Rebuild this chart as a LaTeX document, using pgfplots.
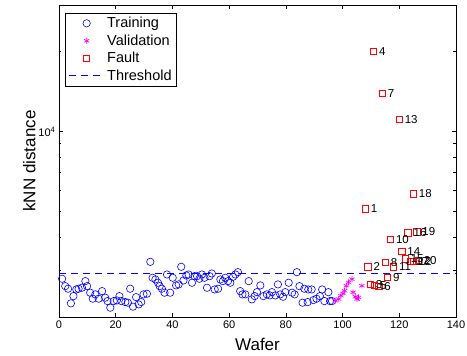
\documentclass[border=0pt]{standalone}
\usepackage{fontspec}
\setmainfont{Liberation Sans}
\usepackage{xcolor}
\usepackage{pgfplots}
\pgfplotsset{compat=1.18}
\definecolor{mblue}{rgb}{0,0,1}
\definecolor{mred}{rgb}{1,0,0}
\definecolor{mmag}{rgb}{1,0,1}
\pgfplotstableread{
x y lab
108.0 5110 1
109.0 3090 2
109.8 2653 3
110.9 20050 4
111.3 2630 5
112.8 2605 6
114.0 13900 7
115.1 3210 8
115.9 2825 9
116.9 3930 10
118.0 3090 11
124.9 3240 12
120.0 11130 13
120.9 3540 14
122.1 3310 15
123.1 4150 16
123.9 3240 17
125.0 5820 18
126.2 4190 19
126.7 3265 20
}\faulttable
\begin{document}
\begin{tikzpicture}
\useasboundingbox (-59pt,-39pt) rectangle (408pt,317pt);
\begin{axis}[
  scale only axis, width=397pt, height=312pt,
  ymode=log, xmin=0, xmax=140, ymin=2000, ymax=30000,
  xtick={0,20,...,140},
  ytick={10000}, yticklabels={10\textsuperscript{4}},
  minor ytick={2000,3000,4000,5000,6000,7000,8000,9000,20000,30000},
  tick align=inside, tick pos=both,
  major tick length=4pt, minor tick length=2.5pt,
  /pgf/number format/assume math mode=true,
  ticklabel style={font=\fontsize{11}{13}\selectfont},
  xlabel={Wafer}, ylabel={kNN distance},
  label style={font=\fontsize{17}{20}\selectfont},
  xlabel style={at={(axis description cs:0.5,0)}, anchor=base, yshift=-33.7pt},
  ylabel style={at={(axis description cs:-0.05,0.5)}, anchor=south},
  axis line style={line width=0.6pt},
  every tick/.style={line width=0.5pt},
  legend style={at={(axis description cs:0.015,0.974)}, anchor=north west,
    font=\fontsize{14.5}{17}\selectfont, row sep=1.5pt,
    cells={anchor=west}, inner xsep=3pt, nodes={inner xsep=2pt}},
  legend image code/.code={\draw[mark repeat=2,mark phase=2] plot coordinates {(4pt,0pt) (22pt,0pt) (40pt,0pt)};},
]
\addplot[only marks, mark=o, color=mblue, mark size=3.7pt, line width=0.6pt] coordinates {
(1.1,2787) (2.2,2614) (3.2,2556) (4.2,2251) (5.1,2397) (6.1,2540) (6.9,2556) (8.1,2578)
(9.3,2730) (9.9,2614) (11.0,2469) (11.9,2344) (12.8,2433) (14.0,2344) (15.2,2503) (16.3,2364)
(17.1,2296) (18.1,2168) (19.3,2296) (20.4,2309) (21.3,2397) (22.0,2296) (23.4,2276) (24.3,2264)
(25.1,2556) (26.1,2187) (27.2,2376) (28.1,2231) (29.0,2276) (29.8,2433) (31.0,2447) (32.2,3228)
(33.0,2811) (34.0,2770) (34.9,2692) (35.5,2614) (36.3,2556) (37.2,2469) (38.1,2892) (39.2,2469)
(40.1,2811) (41.3,2630) (42.2,2653) (43.1,3092) (43.9,2746) (44.9,2867) (45.7,2892) (46.9,2692)
(47.8,2850) (48.7,2850) (49.5,2787) (50.4,2892) (51.3,2811) (52.2,2578) (53.1,2850) (53.9,2917)
(54.9,2540) (56.1,2556) (56.9,2770) (57.8,2730) (58.6,2811) (59.6,2730) (60.4,2692) (61.4,2835)
(62.2,2892) (63.1,2951) (63.9,2503) (64.7,2433) (65.7,2433) (66.9,2730) (68.0,2330) (69.0,2397)
(69.8,2481) (71.0,2630) (72.1,2397) (73.3,2433) (74.3,2412) (75.1,2481) (76.3,2412) (77.2,2653)
(78.0,2433) (79.0,2384) (79.8,2481) (81.0,2692) (82.2,2469) (83.1,2433) (83.9,2951) (84.8,2614)
(85.9,2264) (86.5,2556) (87.7,2276) (87.9,2540) (89.1,2540) (89.7,2316) (90.8,2344) (92.0,2397)
(92.8,2540) (93.6,2296) (95.0,2481) (95.6,2296) (96.3,2296)
};
\addlegendentry{Training}
\addplot[only marks, mark=asterisk, color=mmag, mark size=3pt, line width=0.7pt] coordinates {
(97.4,2304) (98.6,2336) (99.4,2405) (100.1,2454) (100.7,2512) (101.3,2624) (102.1,2700)
(103.3,2778) (103.7,2477) (104.5,2384) (105.1,2336) (105.6,2370) (106.8,2623)
};
\addlegendentry{Validation}
\addplot[only marks, mark=square, color=mred, mark options={solid, draw=mred, draw opacity=0.99}, mark size=3.2pt, line width=0.8pt] table[x=x,y=y] {\faulttable};
\addlegendentry{Fault}
\addplot[color=mblue, draw opacity=0.99, line width=1pt, dash pattern=on 7pt off 5pt] coordinates {(0,2920) (140,2920)};
\addlegendentry{Threshold}
\addplot[forget plot, draw=none, mark=none,
  nodes near coords, point meta=explicit symbolic,
  nodes near coords style={anchor=west, xshift=2pt, font=\fontsize{11.5}{13}\selectfont}]
  table[x=x, y=y, meta=lab] {\faulttable};
\end{axis}
\end{tikzpicture}
\end{document}
